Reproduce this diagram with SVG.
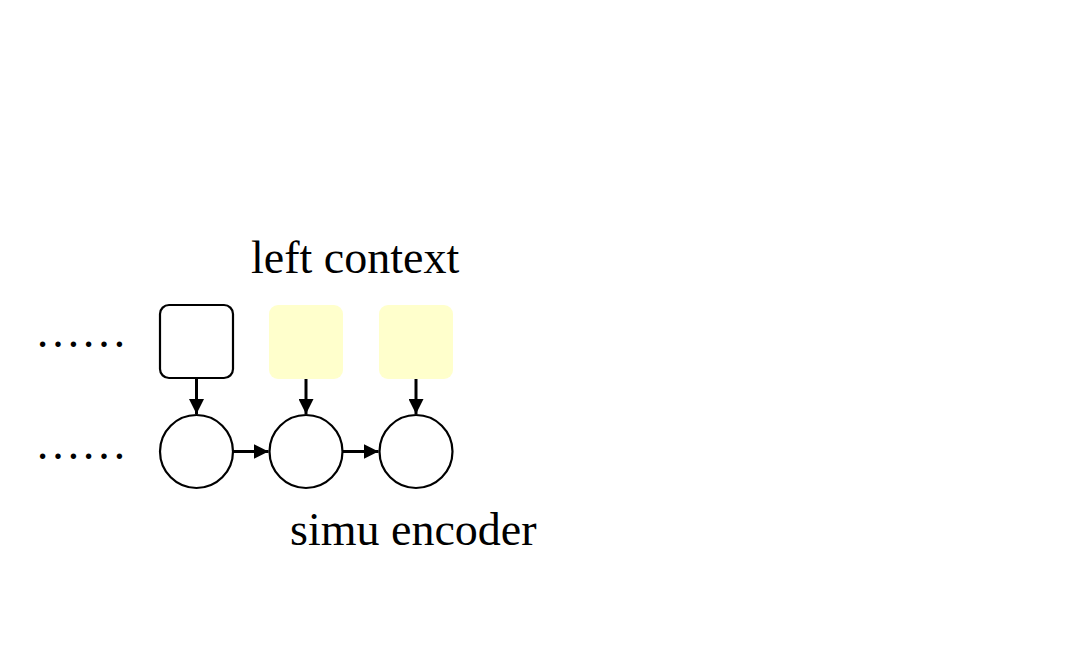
<svg xmlns="http://www.w3.org/2000/svg" width="1079" height="669" viewBox="0 0 1079 669">
<defs>
<style>
.lbl{font-family:"Liberation Serif","Times New Roman",serif;font-size:46px;fill:#000}
.box{fill:#fff;stroke:#000;stroke-width:2.2}
.ctx{fill:#ffffcc;stroke:none}
.node{fill:#fff;stroke:#000;stroke-width:2.2}
.edge{stroke:#000;stroke-width:3;fill:none;marker-end:url(#ah)}
</style>
<marker id="ah" viewBox="0 0 10 10" refX="10" refY="5" markerWidth="5" markerHeight="5" markerUnits="strokeWidth" orient="auto">
<path d="M0,0 L10,5 L0,10 z" fill="#000"/>
</marker>
</defs>
<rect width="1079" height="669" fill="#fff"/>
<g id="label-left-context"><text class="lbl" x="251" y="273">left context</text></g>
<g id="label-simu-encoder"><text class="lbl" x="290" y="545">simu encoder</text></g>
<g id="dots-top"><text class="lbl" x="35" y="347">……</text></g>
<g id="dots-bottom"><text class="lbl" x="35" y="459">……</text></g>
<g id="box1"><rect class="box" x="160" y="305" width="73" height="73" rx="9"/></g>
<g id="ctx2"><rect class="ctx" x="269" y="305" width="74" height="74" rx="9"/></g>
<g id="ctx3"><rect class="ctx" x="379" y="305" width="74" height="74" rx="9"/></g>
<g id="enc1"><circle class="node" cx="196.5" cy="451.5" r="36.5"/></g>
<g id="enc2"><circle class="node" cx="306" cy="451.5" r="36.5"/></g>
<g id="enc3"><circle class="node" cx="416" cy="451.5" r="36.5"/></g>
<g id="connectors">
<line class="edge" x1="196.5" y1="379" x2="196.5" y2="414"/>
<line class="edge" x1="306" y1="379" x2="306" y2="414"/>
<line class="edge" x1="416" y1="379" x2="416" y2="414"/>
<line class="edge" x1="233" y1="451.5" x2="268.5" y2="451.5"/>
<line class="edge" x1="342.5" y1="451.5" x2="378.5" y2="451.5"/>
</g>
</svg>
